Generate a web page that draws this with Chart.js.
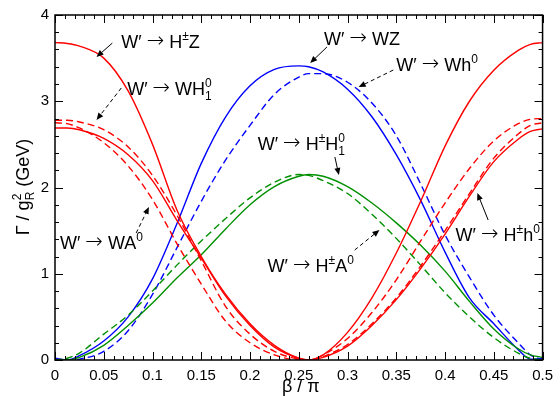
<!DOCTYPE html>
<html>
<head>
<meta charset="utf-8">
<script src="https://cdn.jsdelivr.net/npm/chart.js@4.4.0/dist/chart.umd.min.js"></script>
<style>
  html, body { margin: 0; padding: 0; background: #fff; }
</style>
</head>
<body>
<canvas id="widthChart" width="560" height="396"></canvas>
<script>
// beta / pi sample points shared by every curve
var beta = [0, 0.0125, 0.025, 0.05, 0.075, 0.1, 0.125, 0.15, 0.175, 0.2, 0.225, 0.25, 0.26,
  0.275, 0.3, 0.325, 0.35, 0.375, 0.4, 0.425, 0.45, 0.475, 0.4875, 0.5];

// Gamma / g_R^2 (GeV)
var wZ    = [0.02, 0.0, 0.05, 0.22, 0.50, 0.94, 1.58, 2.28, 2.82, 3.18, 3.37, 3.41, 3.40,
  3.34, 3.14, 2.82, 2.38, 1.85, 1.25, 0.72, 0.42, 0.12, 0.01, 0.02];
var wh0   = [0.01, 0.0, 0.01, 0.10, 0.34, 0.76, 1.30, 1.84, 2.32, 2.72, 3.08, 3.28, 3.32,
  3.32, 3.22, 2.98, 2.60, 2.04, 1.45, 0.96, 0.52, 0.20, 0.06, 0.0];
var hpH1  = [0.0, 0.0, 0.03, 0.17, 0.40, 0.66, 0.95, 1.22, 1.52, 1.80, 2.01, 2.13, 2.15,
  2.13, 2.01, 1.82, 1.59, 1.33, 1.03, 0.68, 0.36, 0.13, 0.06, 0.03];
var hpA0  = [0.0, 0.02, 0.08, 0.30, 0.52, 0.80, 1.10, 1.38, 1.64, 1.88, 2.06, 2.15, 2.14,
  2.08, 1.93, 1.69, 1.41, 1.10, 0.78, 0.50, 0.26, 0.08, 0.02, 0.0];
var hpZ   = [3.68, 3.67, 3.64, 3.50, 3.12, 2.50, 1.74, 1.20, 0.76, 0.42, 0.17, 0.02, 0.0,
  0.06, 0.32, 0.72, 1.24, 1.84, 2.48, 3.00, 3.36, 3.59, 3.66, 3.68];
var hph0  = [2.69, 2.69, 2.67, 2.57, 2.38, 2.08, 1.62, 1.18, 0.74, 0.40, 0.15, 0.02, 0.0,
  0.03, 0.16, 0.40, 0.70, 1.06, 1.46, 1.90, 2.30, 2.56, 2.65, 2.68];
var wH1   = [2.78, 2.78, 2.76, 2.67, 2.47, 2.14, 1.68, 1.15, 0.62, 0.30, 0.10, 0.01, 0.0,
  0.04, 0.18, 0.42, 0.72, 1.09, 1.50, 1.93, 2.34, 2.62, 2.72, 2.75];
var wA0   = [2.75, 2.74, 2.69, 2.52, 2.25, 1.86, 1.35, 0.88, 0.45, 0.20, 0.06, 0.0, 0.0,
  0.06, 0.25, 0.55, 0.93, 1.38, 1.82, 2.22, 2.54, 2.74, 2.79, 2.80];

var xTickValues = [0, 0.05, 0.1, 0.15, 0.2, 0.25, 0.3, 0.35, 0.4, 0.45, 0.5];
var xTickLabels = ['0', '0.05', '0.1', '0.15', '0.2', '0.25', '0.3', '0.35', '0.4', '0.45', '0.5'];
var yTickValues = [0, 1, 2, 3, 4];
var yTickLabels = ['0', '1', '2', '3', '4'];

var FONT = '"Liberation Sans", Arial, Helvetica, sans-serif';
var ARROW_FONT = '"DejaVu Sans", sans-serif';
var RED = '#ff0000', BLUE = '#0000ff', GREEN = '#009000';
var DASH = [7, 4];

var W = ['W\u2032 '], TO = ['\u2192', 'arrow'];

// curve labels: text anchor (left, baseline) and arrow, in data units
var notes = [
  { at: [0.068, 3.617], parts: [W, TO, [' H'], ['\u00b1', 'sup'], ['Z']], from: [0.0588, 3.675], to: [0.0426, 3.513], dashed: false },
  { at: [0.074, 3.072], parts: [W, TO, [' WH'], ['0', 'stack', '1']], from: [0.068, 3.154], to: [0.0426, 2.783], dashed: true },
  { at: [0.2759, 3.652], parts: [W, TO, [' WZ']], from: [0.2789, 3.629], to: [0.2617, 3.443], dashed: false },
  { at: [0.350, 3.351], parts: [W, TO, [' Wh'], ['0', 'sup']], from: [0.3469, 3.362], to: [0.3114, 3.165], dashed: true },
  { at: [0.2079, 2.435], parts: [W, TO, [' H'], ['\u00b1', 'sup'], ['H'], ['0', 'stack', '1']], from: [0.287, 2.354], to: [0.2911, 2.145], dashed: false },
  { at: [0.218, 1.024], parts: [W, TO, [' H'], ['\u00b1', 'sup'], ['A'], ['0', 'sup']], from: [0.3073, 1.275], to: [0.3327, 1.507], dashed: true },
  { at: [0.0051, 1.283], parts: [W, TO, [' WA'], ['0', 'sup']], from: [0.0832, 1.472], to: [0.0963, 1.774], dashed: true },
  { at: [0.4108, 1.380], parts: [W, TO, [' H'], ['\u00b1', 'sup'], ['h'], ['0', 'sup']], from: [0.4442, 1.623], to: [0.4331, 1.936], dashed: false }
];

function toPoints(ys) {
  return beta.map(function (b, i) { return { x: b, y: ys[i] }; });
}

function line(values, color, dashed) {
  return {
    data: toPoints(values),
    borderColor: color,
    borderWidth: 1.4,
    borderDash: dashed ? DASH : [],
    pointRadius: 0,
    fill: false,
    cubicInterpolationMode: 'monotone'
  };
}

// draws text pieces with super/subscripts, returns total width
function richText(ctx, x, y, parts, size, measureOnly) {
  var small = Math.round(size * 0.68);
  var cx = x;
  parts.forEach(function (p) {
    if (p[1] === 'sup') {
      ctx.font = small + 'px ' + FONT;
      if (!measureOnly) ctx.fillText(p[0], cx, y - size * 0.45);
      cx += ctx.measureText(p[0]).width;
    } else if (p[1] === 'stack') {
      ctx.font = small + 'px ' + FONT;
      if (!measureOnly) {
        ctx.fillText(p[0], cx, y - size * 0.45);
        ctx.fillText(p[2], cx, y + size * 0.3);
      }
      cx += Math.max(ctx.measureText(p[0]).width, ctx.measureText(p[2]).width);
    } else if (p[1] === 'arrow') {
      ctx.font = '200 ' + Math.round(size * 1.15) + 'px ' + ARROW_FONT;
      if (!measureOnly) ctx.fillText(p[0], cx, y - 1);
      cx += ctx.measureText(p[0]).width;
    } else {
      ctx.font = size + 'px ' + FONT;
      if (!measureOnly) ctx.fillText(p[0], cx, y);
      cx += ctx.measureText(p[0]).width;
    }
  });
  return cx - x;
}

function arrow(ctx, x1, y1, x2, y2, dashed) {
  var ang = Math.atan2(y2 - y1, x2 - x1);
  var head = 7;
  ctx.save();
  ctx.strokeStyle = '#000';
  ctx.fillStyle = '#000';
  ctx.lineWidth = 1;
  ctx.setLineDash(dashed ? [4, 3] : []);
  ctx.beginPath();
  ctx.moveTo(x1, y1);
  ctx.lineTo(x2 - Math.cos(ang) * head * 0.8, y2 - Math.sin(ang) * head * 0.8);
  ctx.stroke();
  ctx.setLineDash([]);
  ctx.beginPath();
  ctx.moveTo(x2, y2);
  ctx.lineTo(x2 - head * Math.cos(ang) + 3 * Math.sin(ang), y2 - head * Math.sin(ang) - 3 * Math.cos(ang));
  ctx.lineTo(x2 - head * Math.cos(ang) - 3 * Math.sin(ang), y2 - head * Math.sin(ang) + 3 * Math.cos(ang));
  ctx.closePath();
  ctx.fill();
  ctx.restore();
}

var framePlugin = {
  id: 'frame',
  afterDraw: function (chart) {
    var ctx = chart.ctx;
    var a = chart.chartArea;
    var xs = chart.scales.x, ys = chart.scales.y;
    var i, p, len;
    ctx.save();
    ctx.strokeStyle = '#000';
    ctx.lineWidth = 1;
    ctx.beginPath();
    for (i = 0; i <= 50; i++) {
      p = Math.round(xs.getPixelForValue(i / 100)) + 0.5;
      len = (i % 5 === 0) ? 8 : 4;
      ctx.moveTo(p, a.bottom); ctx.lineTo(p, a.bottom - len);
      ctx.moveTo(p, a.top); ctx.lineTo(p, a.top + len);
    }
    for (i = 0; i <= 20; i++) {
      p = Math.round(ys.getPixelForValue(i / 5)) + 0.5;
      len = (i % 5 === 0) ? 8 : 4;
      ctx.moveTo(a.left, p); ctx.lineTo(a.left + len, p);
      ctx.moveTo(a.right, p); ctx.lineTo(a.right - len, p);
    }
    ctx.stroke();
    ctx.lineWidth = 1.5;
    ctx.strokeRect(a.left, a.top, a.right - a.left, a.bottom - a.top);

    // curve labels
    ctx.fillStyle = '#000';
    ctx.textBaseline = 'alphabetic';
    ctx.textAlign = 'left';
    notes.forEach(function (n) {
      richText(ctx, xs.getPixelForValue(n.at[0]), ys.getPixelForValue(n.at[1]), n.parts, 18, false);
      arrow(ctx, xs.getPixelForValue(n.from[0]), ys.getPixelForValue(n.from[1]),
        xs.getPixelForValue(n.to[0]), ys.getPixelForValue(n.to[1]), n.dashed);
    });

    // axis titles
    var xt = [['\u03b2 / \u03c0']];
    var w = richText(ctx, 0, 0, xt, 18, true);
    richText(ctx, (a.left + a.right) / 2 - w / 2 + 2, 392, xt, 18, false);

    var yt = [['\u0393 / g'], ['2', 'stack', 'R'], [' (GeV)']];
    ctx.translate(29, 187);
    ctx.rotate(-Math.PI / 2);
    w = richText(ctx, 0, 0, yt, 18, true);
    richText(ctx, -w / 2, 0, yt, 18, false);
    ctx.restore();
  }
};

var chart = new Chart(document.getElementById('widthChart').getContext('2d'), {
  type: 'line',
  data: {
    datasets: [
      line(wA0, RED, true),
      line(wH1, RED, true),
      line(hph0, RED, false),
      line(hpZ, RED, false),
      line(hpA0, GREEN, true),
      line(hpH1, GREEN, false),
      line(wh0, BLUE, true),
      line(wZ, BLUE, false)
    ]
  },
  options: {
    responsive: false,
    animation: false,
    layout: { padding: { top: 15, right: 12, left: 0, bottom: 0 } },
    plugins: {
      legend: { display: false },
      tooltip: { enabled: false }
    },
    scales: {
      x: {
        type: 'linear',
        min: 0,
        max: 0.5,
        grid: { display: false, drawTicks: false },
        border: { display: false },
        afterBuildTicks: function (s) { s.ticks = xTickValues.map(function (v) { return { value: v }; }); },
        afterFit: function (s) { s.height = 36; },
        ticks: {
          color: '#000',
          font: { family: FONT, size: 15 },
          padding: 7,
          maxRotation: 0,
          autoSkip: false,
          callback: function (v, i) { return xTickLabels[i]; }
        }
      },
      y: {
        type: 'linear',
        min: 0,
        max: 4,
        grid: { display: false, drawTicks: false },
        border: { display: false },
        afterBuildTicks: function (s) { s.ticks = yTickValues.map(function (v) { return { value: v }; }); },
        afterFit: function (s) { s.width = 55; },
        ticks: {
          color: '#000',
          font: { family: FONT, size: 15 },
          padding: 6,
          autoSkip: false,
          callback: function (v, i) { return yTickLabels[i]; }
        }
      }
    }
  },
  plugins: [framePlugin]
});
</script>
</body>
</html>
